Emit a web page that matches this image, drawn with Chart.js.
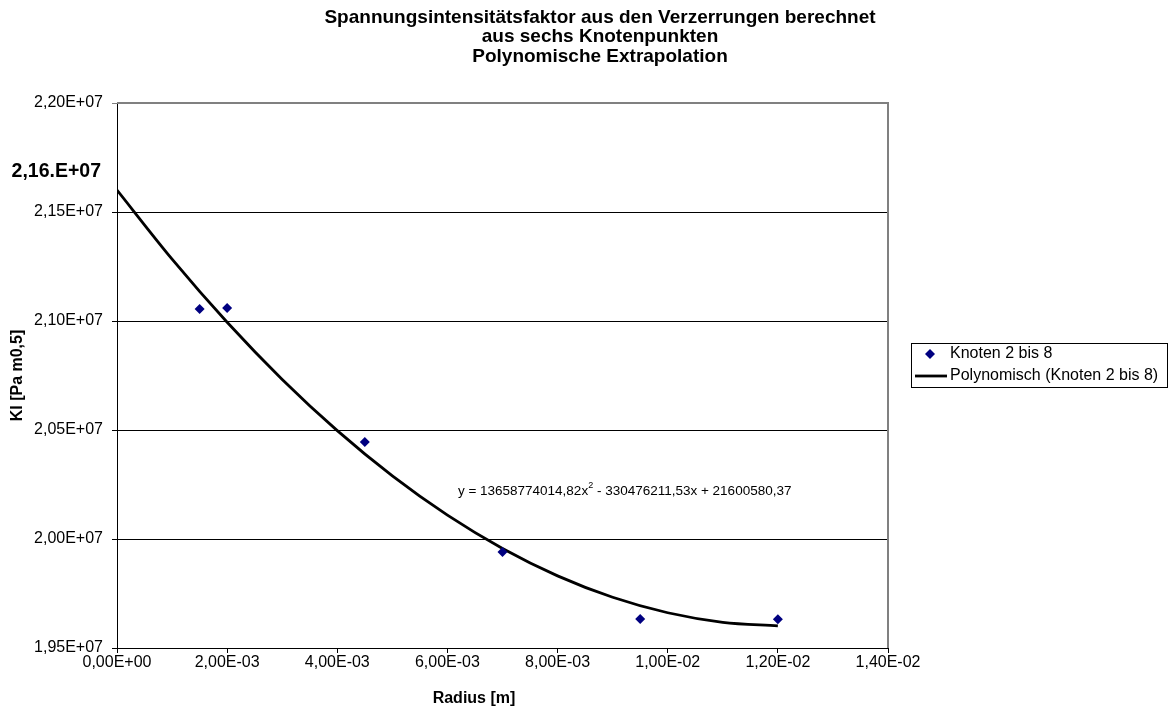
<!DOCTYPE html>
<html lang="de">
<head>
  <meta charset="UTF-8">
  <title>Spannungsintensitätsfaktor</title>
  <script src="https://cdn.jsdelivr.net/npm/chart.js@4.4.1/dist/chart.umd.min.js"></script>
  <style>
    body { margin: 0; background: #fff; }
    #wrap { width: 1175px; height: 711px; }
  </style>
</head>
<body>
  <div id="wrap"><canvas id="myChart"></canvas></div>
  <script>
    // Messpunkte (Knoten 2 bis 8)
    const radius = [0.0015, 0.002, 0.0045, 0.007, 0.0095, 0.012];
    const kI = [21055000, 21060000, 20445000, 19940000, 19633000, 19632000];

    // Trendlinie
    const trendX = [0, 0.001, 0.002, 0.003, 0.004, 0.005, 0.006, 0.007, 0.008, 0.009, 0.010, 0.011, 0.012];
    const trendY = [21600580, 21283760, 20994260, 20732080, 20497220, 20289670, 20109440,
                    19956530, 19830930, 19732660, 19661700, 19618050, 19601730];

    const titleLines = ['Spannungsintensitätsfaktor aus den Verzerrungen berechnet',
                        'aus sechs Knotenpunkten', 'Polynomische Extrapolation'];
    const legendLabels = ['Knoten 2 bis 8', 'Polynomisch (Knoten 2 bis 8)'];
    const equation = ['y = 13658774014,82x', '2', ' - 330476211,53x + 21600580,37'];
    const markLabel = '2,16.E+07';
    const xTitle = 'Radius [m]';
    const yTitle = 'KI [Pa m0,5]';

    const FONT = '"Liberation Sans", Arial, sans-serif';
    const NAVY = '#000080';

    function sci(v) {
      if (Math.abs(v) < 1e-12) return '0,00E+00';
      let e = Math.floor(Math.log10(Math.abs(v)));
      let m = v / Math.pow(10, e);
      if (Math.abs(m) >= 9.995) { m /= 10; e += 1; }
      const sign = e < 0 ? '-' : '+';
      return m.toFixed(2).replace('.', ',') + 'E' + sign + String(Math.abs(e)).padStart(2, '0');
    }

    const extras = {
      id: 'extras',
      afterDraw(chart) {
        const ctx = chart.ctx;
        const a = chart.chartArea;
        const xs = chart.scales.x, ys = chart.scales.y;
        ctx.save();
        // grauer Rahmen oben/rechts
        ctx.strokeStyle = '#808080';
        ctx.lineWidth = 2;
        ctx.beginPath();
        ctx.moveTo(a.left, a.top);
        ctx.lineTo(a.right, a.top);
        ctx.lineTo(a.right, a.bottom);
        ctx.stroke();

        // Gleichung
        ctx.fillStyle = '#000';
        ctx.textBaseline = 'middle';
        ctx.textAlign = 'left';
        let ex = xs.getPixelForValue(0.00619);
        const ey = ys.getPixelForValue(20220000);
        ctx.font = '13.5px ' + FONT;
        ctx.fillText(equation[0], ex, ey);
        ex += ctx.measureText(equation[0]).width;
        ctx.font = '9px ' + FONT;
        ctx.fillText(equation[1], ex, ey - 6);
        ex += ctx.measureText(equation[1]).width;
        ctx.font = '13.5px ' + FONT;
        ctx.fillText(equation[2], ex, ey);

        // Wert bei x = 0
        ctx.font = 'bold 19.5px ' + FONT;
        ctx.textAlign = 'right';
        ctx.fillText(markLabel, a.left - 16, 172);

        // Achsentitel x
        ctx.font = 'bold 16px ' + FONT;
        ctx.textAlign = 'center';
        ctx.fillText(xTitle, 474, 699);

        // Legende
        const lx = 911, ly = 343, lw = 256, lh = 44;
        ctx.fillStyle = '#fff';
        ctx.fillRect(lx, ly, lw, lh);
        ctx.strokeStyle = '#000';
        ctx.lineWidth = 1;
        ctx.strokeRect(lx + 0.5, ly + 0.5, lw, lh);
        const r1 = ly + 11, r2 = ly + 33;
        ctx.fillStyle = NAVY;
        ctx.beginPath();
        ctx.moveTo(lx + 19, r1 - 5);
        ctx.lineTo(lx + 24, r1);
        ctx.lineTo(lx + 19, r1 + 5);
        ctx.lineTo(lx + 14, r1);
        ctx.closePath();
        ctx.fill();
        ctx.strokeStyle = '#000';
        ctx.lineWidth = 2.8;
        ctx.beginPath();
        ctx.moveTo(lx + 4, r2);
        ctx.lineTo(lx + 36, r2);
        ctx.stroke();
        ctx.fillStyle = '#000';
        ctx.font = '16px ' + FONT;
        ctx.textAlign = 'left';
        ctx.fillText(legendLabels[0], lx + 39, r1);
        ctx.fillText(legendLabels[1], lx + 39, r2);
        ctx.restore();
      }
    };

    const ctx = document.getElementById('myChart').getContext('2d');
    const myChart = new Chart(ctx, {
      type: 'scatter',
      data: {
        datasets: [{
          label: legendLabels[0],
          data: radius.map((r, i) => ({ x: r, y: kI[i] })),
          pointStyle: 'rectRot',
          pointRadius: 5,
          backgroundColor: NAVY,
          borderColor: NAVY,
          borderWidth: 0,
          order: 1
        }, {
          label: legendLabels[1],
          type: 'line',
          data: trendX.map((r, i) => ({ x: r, y: trendY[i] })),
          borderColor: '#000',
          borderWidth: 2.8,
          pointRadius: 0,
          fill: false,
          cubicInterpolationMode: 'monotone',
          order: 2
        }]
      },
      options: {
        responsive: true,
        maintainAspectRatio: false,
        animation: false,
        layout: { padding: { left: 25, right: 0, top: 0, bottom: 0 } },
        plugins: {
          legend: { display: false },
          tooltip: { enabled: false },
          title: {
            display: true,
            text: titleLines,
            color: '#000',
            font: { family: FONT, size: 19, weight: 'bold', lineHeight: 1.02 },
            padding: { top: 8, bottom: 36.9 }
          }
        },
        scales: {
          x: {
            type: 'linear',
            min: 0,
            max: 0.014,
            afterFit: s => { s.height = 63; },
            ticks: {
              stepSize: 0.002,
              color: '#000',
              font: { family: FONT, size: 16 },
              padding: 0,
              maxRotation: 0,
              callback: v => sci(v)
            },
            grid: { drawOnChartArea: false, drawTicks: true, tickLength: 5, color: '#000' },
            border: { display: true, color: '#000', width: 1 }
          },
          y: {
            min: 19500000,
            max: 22000000,
            afterFit: s => { s.width = 92; },
            ticks: {
              stepSize: 500000,
              color: '#000',
              font: { family: FONT, size: 16 },
              padding: 9,
              callback: v => sci(v)
            },
            grid: {
              color: c => (c.tick && c.tick.value === 22000000) ? '#808080' : '#000',
              lineWidth: 1,
              drawTicks: true,
              tickLength: 5
            },
            border: { display: true, color: '#000', width: 1 },
            title: {
              display: true,
              text: yTitle,
              color: '#000',
              font: { family: FONT, size: 16, weight: 'bold' },
              padding: { top: -16.6, bottom: 0 }
            }
          },
          // leerer Bereich rechts für die Legende
          side: {
            position: 'right',
            display: true,
            afterFit: s => { s.width = 287; },
            grid: { display: false },
            ticks: { display: false },
            border: { display: false }
          }
        }
      },
      plugins: [extras]
    });
  </script>
</body>
</html>
